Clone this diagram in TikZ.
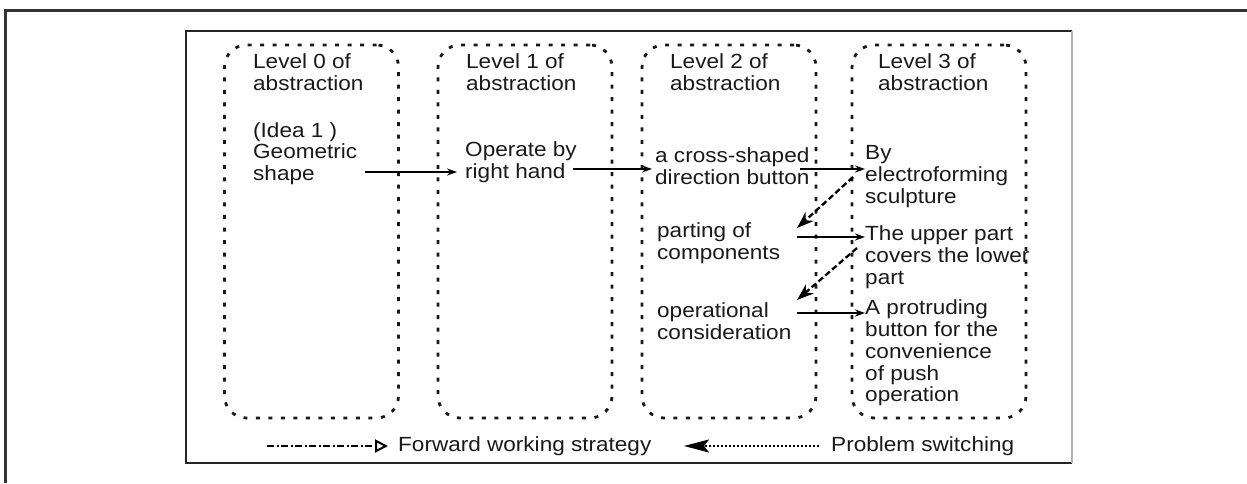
\documentclass[tikz,border=0pt]{standalone}
\usepackage{fontspec}
\setmainfont{Liberation Sans}[FakeStretch=1.1]
\usetikzlibrary{arrows.meta}

\begin{document}
\begin{tikzpicture}[x=1pt,y=-1pt,
	level_box/.style={draw=black!90,line width=2.8pt,dash pattern=on 4pt off 8.5pt,rounded corners=22pt,minimum width=174pt,minimum height=373pt},
	text_node/.style={anchor=west,align=left,inner sep=0pt,text=black!90,font=\fontsize{20.5}{21.7}\selectfont},
	flow/.style={-{Stealth[length=10pt,width=7pt]},line width=1.3pt},
	back/.style={-{Stealth[length=17pt,width=12pt]},line width=2.3pt,dash pattern=on 6pt off 3pt}]

		\useasboundingbox (0,0) rectangle (1247,483);

		% frames
		\draw[line width=3pt,black!80] (5,483) -- (5,10) -- (1247,10);
		\draw[line width=1.8pt,black!85] (1072,463) -- (186,463) -- (186,31) -- (1072,31);
		\draw[line width=2pt,black!30] (1072,31) -- (1072,463);

		\node[level_box] (box0) at (311.5,231.5) {};
		\node[level_box] (box1) at (525,231.5) {};
		\node[level_box] (box2) at (729,231.5) {};
		\node[level_box] (box3) at (939,231.5) {};

		\node[text_node] (lev0) at (253,72.5) {Level 0 of\\abstraction};
		\node[text_node] (lev1) at (466,72.5) {Level 1 of\\abstraction};
		\node[text_node] (lev2) at (670,72.5) {Level 2 of\\abstraction};
		\node[text_node] (lev3) at (878,72.5) {Level 3 of\\abstraction};

		\node[text_node] (idea) at (253,153.5) {(Idea 1 )\\Geometric\\shape};
		\node[text_node] (operate) at (465,162.5) {Operate by\\right hand};
		\node[text_node] (cross) at (655,166) {a cross-shaped\\direction button};
		\node[text_node] (parting) at (657,243.5) {parting of\\components};
		\node[text_node] (operational) at (657,321) {operational\\consideration};
		\node[text_node] (by) at (865,176.5) {By\\electroforming\\sculpture};
		\node[text_node] (upper) at (865,257) {The upper part\\covers the lower\\part};
		\node[text_node] (protruding) at (865,353) {A protruding\\button for the\\convenience\\of push\\operation};

		\draw[flow] ([shift={(112,18.5)}]idea.west) -- ([shift={(-8,9.5)}]operate.west);
		\draw[flow] ([shift={(108,6.5)}]operate.west) -- ([shift={(-3,3)}]cross.west);
		\draw[flow] ([shift={(145,3)}]cross.west) -- ([shift={(0,-7.5)}]by.west);
		\draw[back] ([shift={(-12,0.5)}]by.west) -- ([shift={(140,-15.5)}]parting.west);
		\draw[flow] ([shift={(140,-6.5)}]parting.west) -- ([shift={(0,-20)}]upper.west);
		\draw[back] ([shift={(-8,-9)}]upper.west) -- ([shift={(140,-21)}]operational.west);
		\draw[flow,line width=2pt] ([shift={(140,-8)}]operational.west) -- ([shift={(0,-40)}]protruding.west);

		% legend
		\coordinate (fwd_start) at (267,446);
		\node[text_node] (fwd_text) at (398,446) {Forward working strategy};
		\draw[-{Triangle[open,length=13pt,width=13pt]},line width=2pt,dash pattern=on 7pt off 2.5pt on 2pt off 2.5pt] (fwd_start) -- ([xshift=-10pt]fwd_text.west);

		\coordinate (sw_tip) at (684,446);
		\node[text_node] (sw_text) at (831,446) {Problem switching};
		\draw[-{Stealth[length=25pt,width=13pt,inset=5pt]},line width=2pt,dash pattern=on 2pt off 2pt] ([xshift=-12pt]sw_text.west) -- (sw_tip);
		\end{tikzpicture}
\end{document}
